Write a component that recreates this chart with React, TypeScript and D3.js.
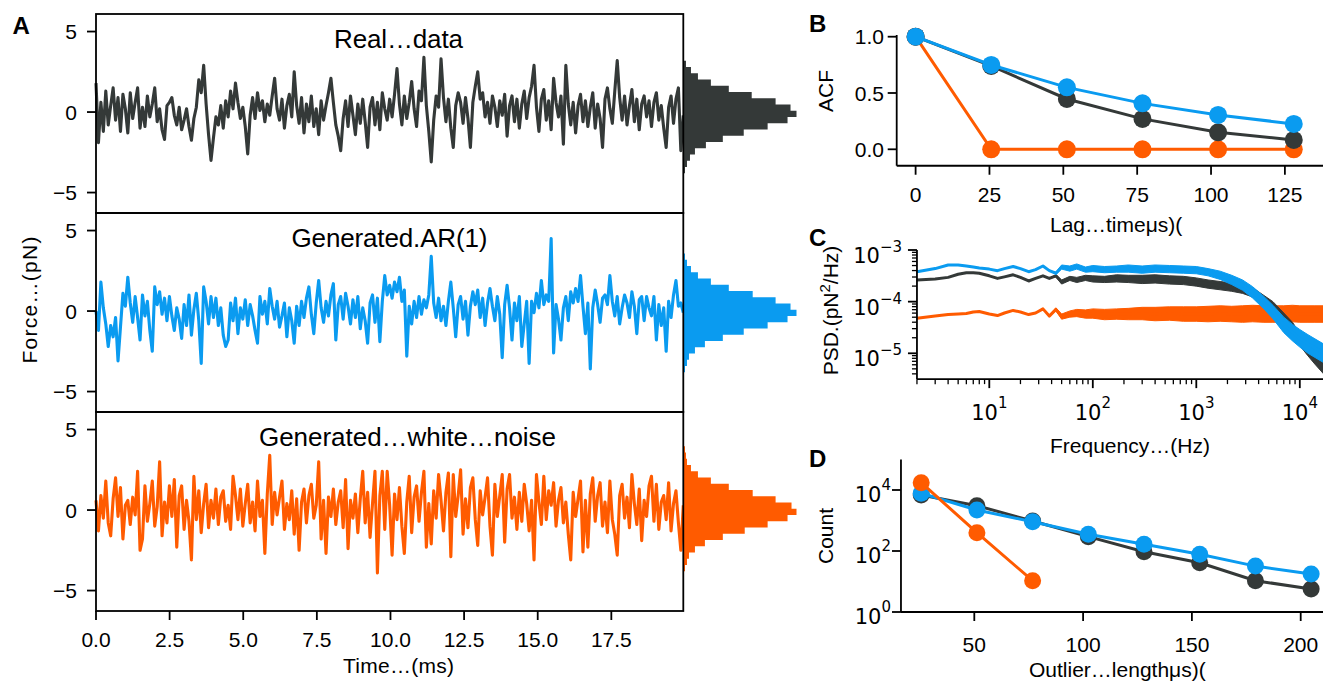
import React from 'react';
import * as d3 from 'd3';

const C_REAL = '#343938';
const C_AR = '#0a9bf0';
const C_WHITE = '#ff5b00';
const FONT = 'Liberation Sans, Arial, sans-serif';
const MATH = 'DejaVu Sans, sans-serif';

// ---------- Panel A: force traces (pN), sampled every 0.0831 ms ----------
const timeStepMs = 0.0831;
const forceReal = [
  1.8, -1.9, 0.6, -1.2, 1.3, -0.8, 0.4, 1.5, -0.5, 0.9,
  -1.2, 1.1, 0.2, -1.3, 1.2, -0.4, 0.6, 1.5, -1.0, 0.3,
  -0.9, 1.0, -0.3, 0.5, 1.5, -0.6, 0.2, -1.1, -1.7, 0.4,
  0.6, 0.9, -0.2, -0.8, 0.3, -1.1, -0.5, 0.2, -0.9, -1.75,
  -0.4, 0.3, 2.0, 1.2, 2.9, 0.5, -1.4, -3.0, -1.6, -0.3,
  -0.8, 0.4, -1.0, 0.7, -0.3, 1.3, 0.2, 1.8, 0.6, -0.4,
  0.3, -0.9, -2.6, -0.2, 0.9, -0.4, 1.2, 0.1, 0.7, -0.6,
  0.5, -0.2, 1.0, 2.1, 0.2, -0.5, 0.8, -1.0, 0.4, 1.1,
  -0.3, 2.5, 0.4, -0.7, 0.9, -1.3, 0.5, -0.6, 1.0, -0.9,
  0.2, -1.4, 0.7, -0.5, 0.4, 1.2, 2.1, 0.6, -0.8, -1.5,
  -2.4, -0.4, 0.7, -0.9, 1.0, -0.2, -1.4, 0.5, -0.7, 0.8,
  -0.6, -2.2, 0.3, 0.9, -0.8, 0.6, -1.1, 1.2, 0.2, -0.5,
  0.8, -0.3, 1.1, 2.7, 0.5, -0.8, 1.0, -0.4, 0.6, 1.9,
  0.2, -0.9, 1.3, 0.7, 3.4, 0.4, -1.2, -3.1, -0.5, 1.0,
  0.3, 3.3, 0.9, -0.6, 0.8, -1.0, -2.2, 0.4, 1.2, 0.6,
  -0.7, 0.9, -0.4, -2.2, 0.6, 1.6, 2.5, 0.8, 1.2, -0.3,
  0.6, -0.7, 1.0, 0.3, -0.9, 0.7, -0.2, 1.1, -1.5, 0.4,
  1.0, -0.6, 0.8, -1.0, 0.5, 1.3, -0.4, 0.9, 1.6, 2.9,
  0.3, -1.2, 0.8, 1.4, -0.5, 0.7, -1.1, 2.1, 0.6, -0.3,
  1.0, -2.0, 2.9, 0.5, -0.8, 0.6, -1.3, 0.4, 1.1, -0.6,
  0.7, -0.9, 0.3, 1.2, -1.0, 0.5, -0.4, -2.2, 0.8, 1.5,
  0.2, -0.7, 1.3, 3.2, 0.9, -0.5, 1.0, -0.8, 0.4, 1.4,
  -0.6, 0.8, -1.1, 0.5, 1.0, -0.3, 0.7, -0.9, 0.6, 1.2,
  -0.5, 0.4, -1.0, -2.2, 0.3, 1.0, -0.7, 0.8, 1.5, -2.4,
  -0.2,
];
const forceAR = [
  0.0, -1.2, 1.8, 0.2, -0.8, -2.2, -0.9, -1.6, -0.4, -3.1,
  -1.0, 1.1, 0.3, 2.1, 0.5, -0.7, 0.9, -0.4, -1.8, 1.0,
  -0.3, 0.6, -1.2, -2.5, 1.5, 0.4, 1.2, -0.2, 0.8, -0.6,
  0.9, -0.3, -1.2, 0.2, -0.5, -1.7, 0.4, -0.9, 1.0, -1.5,
  0.1, 1.1, -0.6, -3.25, 1.5, 0.6, -0.8, 0.9, -0.4, 0.8,
  -0.9, 0.2, -1.5, -2.2, -1.8, 0.5, -0.6, 0.8, -1.4, 0.2,
  -0.5, 0.7, -0.9, 0.4, -0.3, -1.2, -2.0, 0.9, -0.2, 0.6,
  -0.8, 1.4, 0.3, -0.5, 0.6, -1.0, -0.3, 0.5, -1.6, 0.2,
  -0.6, -2.0, 0.3, -0.9, 0.6, -0.4, 0.8, 1.5, -0.2, -1.4,
  0.5, 1.9, 0.2, -0.7, 0.6, -0.3, 1.0, 1.7, -1.8, 0.4,
  0.9, -0.5, 1.1, 0.3, -0.8, 0.7, -0.4, 0.9, -1.1, 0.2,
  -0.6, -2.0, 0.5, 1.0, -0.7, 0.8, -1.9, 0.6, 2.2, 1.0,
  1.6, 0.8, 1.8, 1.2, 2.1, 0.6, 1.3, -2.8, 0.3, -0.8,
  0.6, -0.4, 0.9, -0.2, 0.7, 0.2, 1.0, 3.4, 0.5, -0.4,
  0.8, -0.6, 0.3, -0.9, 0.6, 1.8, 0.2, -1.6, 0.4, 0.9,
  -0.5, 0.6, -1.5, 0.3, 1.2, 0.4, 1.3, -0.4, 0.8, -0.9,
  0.5, 1.4, 0.3, -0.6, 0.9, -0.2, -2.9, 0.4, 1.6, 0.2,
  -1.8, 0.5, -0.6, 0.9, -2.2, -0.8, 0.6, -3.25, 0.6, -0.1,
  1.1, 0.2, 1.9, 0.4, 1.0, 0.6, 4.5, -2.6, 0.4, -0.5,
  -1.8, 0.2, 0.9, -0.6, 1.2, 0.5, 1.4, 0.6, 2.2, 0.3,
  -1.4, 0.5, -3.6, 0.2, 1.3, 0.4, -0.7, 0.8, 1.0, 0.4,
  2.2, 0.6, -0.3, 0.9, -0.8, 0.2, 1.0, 0.5, -0.4, 1.2,
  0.3, -1.4, 0.7, 0.9, -0.6, 0.9, 0.2, -0.3, 0.9, -1.8,
  0.4, -0.9, 0.2, -2.5, 0.6, -0.4, 1.0, 1.9, 0.3, 0.5,
  -0.1,
];
const forceWhite = [
  0.6, -1.3, 0.9, -0.5, 1.8, -0.8, -1.6, 0.7, 2.0, -0.4,
  1.4, -1.8, 0.3, 0.6, -0.9, 0.8, -0.3, 2.4, -2.5, -1.8,
  1.5, -0.7, 0.4, 1.8, -1.0, 0.2, 3.0, -1.6, 0.5, -0.8,
  1.5, -0.4, 1.9, -2.3, 0.9, 1.5, -1.2, 0.6, -0.7, -3.1,
  2.1, -0.6, 1.2, -1.4, 0.4, 1.6, -1.1, 0.6, -0.5, 1.3,
  -0.9, 0.8, 1.2, -0.7, 0.3, -1.2, 2.1, 0.9, -0.6, 1.3,
  -1.0, 0.4, 1.6, -0.8, 0.5, -1.3, 1.8, -0.4, 0.6, -2.7,
  1.0, 3.4, -0.9, 1.1, -0.3, 0.8, 1.8, -1.2, 0.4, -0.6,
  1.2, -1.5, 0.7, -2.5, 0.5, 1.3, -0.8, 0.9, 1.6, -0.5,
  0.3, 3.0, -1.8, 0.6, -2.7, 0.8, -0.4, 1.3, -0.9, 0.5,
  1.2, -1.1, 1.9, -2.4, 0.6, -0.5, 1.0, -1.4, 0.7, 2.4,
  -0.8, 1.1, -1.7, 0.4, 2.4, -3.9, 0.9, 2.4, -1.2, 2.4,
  0.3, -2.8, 1.0, -0.6, 1.4, -1.0, -2.7, 0.5, 2.1, -1.4,
  0.8, 1.5, -0.7, 1.1, 2.4, -2.3, 0.4, -2.1, 1.2, -0.5,
  2.2, 0.6, -1.3, 1.1, 2.3, -2.9, 2.2, -0.4, 0.9, 2.5,
  -1.5, 0.7, -1.1, 1.4, 2.0, -0.6, -2.2, 1.2, -0.3, 0.8,
  2.0, -1.0, -2.8, 1.6, -0.4, 0.9, 2.2, -2.0, 1.3, 2.2,
  -0.5, 0.8, -1.2, 1.1, -0.7, 1.6, 0.4, -1.3, 0.6, -3.1,
  2.2, 0.5, -0.9, 2.1, -0.6, 1.2, 0.3, 1.7, -1.0, 0.6,
  1.4, -0.8, 0.5, -1.5, -3.1, 1.1, -0.4, 0.7, 1.8, -2.6,
  0.6, -2.3, 1.0, 2.0, -0.7, 0.9, 1.7, -1.0, 0.5, -1.4,
  1.8, -0.6, -1.5, -2.8, 0.9, 1.6, -0.5, 0.8, -1.1, 2.2,
  0.4, -0.9, 1.3, -1.9, 0.6, -0.4, 1.5, 2.1, -0.7, 1.6,
  -1.2, 0.5, 0.9, -0.6, 1.7, -1.3, 0.4, 1.2, -0.8, -2.5,
  0.3,
];

// histogram bin edges (pN, top to bottom) and counts per bin
const histEdges = [3.96, 3.57, 3.18, 2.80, 2.41, 2.02, 1.63, 1.24, 0.86, 0.47, 0.08, -0.31, -0.70, -1.08, -1.47, -1.86, -2.25, -2.64, -3.02, -3.41, -3.80];
const histReal = [0, 0, 2, 7, 14, 27, 45, 68, 92, 107, 113, 104, 84, 60, 39, 22, 11, 6, 3, 1];
const histAR = [0, 1, 3, 7, 14, 27, 45, 69, 92, 107, 113, 104, 84, 60, 39, 21, 11, 5, 3, 1];
const histWhite = [1, 2, 3, 7, 14, 27, 45, 69, 92, 108, 113, 104, 84, 61, 39, 21, 11, 5, 3, 1];

const timeTicks = [0, 2.5, 5, 7.5, 10, 12.5, 15, 17.5];
const forceTicks = [-5, 0, 5];

// ---------- Panel B: ACF ----------
const acfLags = [0, 25.6, 51.2, 76.8, 102.4, 128];
const acfReal = [1.0, 0.74, 0.447, 0.27, 0.151, 0.083];
const acfAR = [1.0, 0.749, 0.55, 0.408, 0.305, 0.225];
const acfWhite = [1.0, 0.0, 0.0, 0.0, 0.0, 0.0];
const acfXTicks = [0, 25, 50, 75, 100, 125];
const acfYTicks = [0, 0.5, 1.0];

// ---------- Panel C: PSD (log10 pN^2/Hz), band = half-spread of the noisy estimate ----------
const psdFreq = [2, 3, 4, 5, 6, 7, 8, 10, 12, 14, 17, 20, 24, 28, 33, 38, 44, 50, 60, 70, 85, 100, 130, 170, 220, 300, 400, 550, 750, 1000, 1300, 1700, 2200, 2800, 3500, 4500, 5500, 7000, 8500, 10000, 12000, 14000, 17000, 19500];
const psdRealLog = [-3.58, -3.56, -3.53, -3.47, -3.44, -3.44, -3.45, -3.50, -3.55, -3.52, -3.48, -3.53, -3.60, -3.55, -3.50, -3.55, -3.50, -3.62, -3.55, -3.58, -3.54, -3.56, -3.57, -3.55, -3.56, -3.57, -3.56, -3.58, -3.59, -3.62, -3.66, -3.69, -3.72, -3.76, -3.82, -3.98, -4.10, -4.33, -4.52, -4.73, -4.92, -5.08, -5.26, -5.35];
const psdRealSpread = [0, 0, 0, 0, 0, 0, 0, 0, 0, 0, 0, 0, 0, 0, 0, 0, 0.02, 0.04, 0.04, 0.05, 0.05, 0.06, 0.06, 0.07, 0.07, 0.08, 0.08, 0.08, 0.08, 0.08, 0.08, 0.08, 0.08, 0.08, 0.09, 0.1, 0.1, 0.11, 0.12, 0.12, 0.13, 0.13, 0.14, 0.14];
const psdARLog = [-3.42, -3.36, -3.29, -3.29, -3.31, -3.33, -3.35, -3.37, -3.40, -3.36, -3.32, -3.36, -3.42, -3.38, -3.31, -3.40, -3.45, -3.33, -3.36, -3.32, -3.38, -3.36, -3.38, -3.37, -3.36, -3.38, -3.36, -3.37, -3.38, -3.39, -3.43, -3.49, -3.58, -3.68, -3.82, -4.02, -4.20, -4.45, -4.60, -4.71, -4.82, -4.90, -5.00, -5.06];
const psdARSpread = [0, 0, 0, 0, 0, 0, 0, 0, 0, 0, 0, 0, 0, 0, 0, 0, 0.02, 0.04, 0.05, 0.05, 0.05, 0.06, 0.06, 0.06, 0.07, 0.07, 0.07, 0.07, 0.07, 0.07, 0.07, 0.08, 0.09, 0.1, 0.11, 0.12, 0.13, 0.15, 0.16, 0.17, 0.18, 0.18, 0.18, 0.18];
const psdWhiteLog = [-4.32, -4.28, -4.25, -4.24, -4.23, -4.20, -4.19, -4.24, -4.27, -4.22, -4.17, -4.20, -4.25, -4.22, -4.14, -4.28, -4.15, -4.29, -4.24, -4.22, -4.24, -4.23, -4.25, -4.24, -4.24, -4.23, -4.24, -4.23, -4.24, -4.24, -4.24, -4.23, -4.24, -4.24, -4.23, -4.24, -4.24, -4.24, -4.23, -4.24, -4.24, -4.24, -4.24, -4.24];
const psdWhiteSpread = [0, 0, 0, 0, 0, 0, 0, 0, 0, 0, 0, 0, 0, 0, 0, 0, 0.03, 0.05, 0.06, 0.07, 0.08, 0.09, 0.1, 0.1, 0.11, 0.12, 0.13, 0.13, 0.14, 0.14, 0.15, 0.15, 0.15, 0.16, 0.16, 0.16, 0.16, 0.16, 0.16, 0.16, 0.16, 0.16, 0.16, 0.16];
const psdXTicks = [10, 100, 1000, 10000];
const psdYTicks = [-3, -4, -5];

// ---------- Panel D: outlier length histogram ----------
const outlierLen = [25.6, 51.2, 76.8, 102.4, 128, 153.6, 179.2, 204.8];
const outlierReal = [6860, 3060, 960, 295, 95, 41, 10.6, 5.7];
const outlierAR = [7800, 2200, 910, 353, 166, 78, 32, 17.6];
const outlierWhite = [17400, 400, 10.6];
const outlierXTicks = [50, 100, 150, 200];
const outlierYTicks = [0, 2, 4];

const ELL = '\u2026';
const MU = '\u03bc';
const MINUS = '\u2212';

function Sup({ base, exp, x, y, anchor, dy }: { base: string; exp: string; x: number; y: number; anchor: string; dy: number }) {
  return (
    <text x={x} y={y} textAnchor={anchor} fontFamily={MATH} fontSize={21} fill="#000">
      {base}
      <tspan dy={dy} fontSize={15}>{exp}</tspan>
    </text>
  );
}

function fmtExp(v: number) {
  return v < 0 ? MINUS + Math.abs(v) : String(v);
}

export default function App() {
  const W = 1323, H = 683;
  const times = forceReal.map((_, i) => i * timeStepMs);
  const xT = d3.scaleLinear().domain([0, 240 * timeStepMs]).range([96, 683.3]);
  const panels = [
    { data: forceReal, color: C_REAL, top: 14, bottom: 213, title: 'Real' + ELL + 'data', tx: 334, tw: 129, hist: histReal },
    { data: forceAR, color: C_AR, top: 213, bottom: 412, title: 'Generated.AR(1)', tx: 291.5, tw: 196, hist: histAR },
    { data: forceWhite, color: C_WHITE, top: 412, bottom: 611, title: 'Generated' + ELL + 'white' + ELL + 'noise', tx: 259, tw: 297, hist: histWhite },
  ];
  const xH = d3.scaleLinear().domain([0, 113]).range([684, 796.5]);

  // B scales
  const xB = d3.scaleLinear().domain([-6.4, 137.9]).range([896.7, 1323]);
  const yB = d3.scaleLinear().domain([0, 1]).range([149.3, 36.7]);
  // C scales
  const xC = d3.scaleLog().domain([10, 10000]).range([989.3, 1299.8]);
  const yC = d3.scaleLog().domain([1e-3, 1e-5]).range([250, 353.3]);
  // D scales
  const xD = d3.scaleLinear().domain([50, 200]).range([974.3, 1300.7]);
  const yD = d3.scaleLog().domain([1, 1e4]).range([612, 490]);

  const lw = 1.8;

  const histPath = (counts: number[], ys: d3.ScaleLinear<number, number>) => {
    const p = d3.path();
    let first = -1, last = -1;
    counts.forEach((c, i) => { if (c > 0) { if (first < 0) first = i; last = i; } });
    p.moveTo(xH(0), ys(histEdges[first]));
    for (let i = first; i <= last; i++) {
      p.lineTo(xH(counts[i]), ys(histEdges[i]));
      p.lineTo(xH(counts[i]), ys(histEdges[i + 1]));
    }
    p.lineTo(xH(0), ys(histEdges[last + 1]));
    p.closePath();
    return p.toString();
  };

  const psdSeries = [
    { log: psdWhiteLog, spread: psdWhiteSpread, color: C_WHITE },
    { log: psdRealLog, spread: psdRealSpread, color: C_REAL },
    { log: psdARLog, spread: psdARSpread, color: C_AR },
  ];
  const psdLine = d3.line<number>().x((_, i) => xC(psdFreq[i])).y((v) => yC(Math.pow(10, v)));

  const cMinorX: number[] = [];
  for (let d = 0; d <= 4; d++) for (let k = 2; k <= 9; k++) { const v = k * Math.pow(10, d); if (v >= 2 && xC(v) <= 1323) cMinorX.push(v); }
  const cMinorY: number[] = [];
  for (let d = -6; d <= -4; d++) for (let k = 2; k <= 9; k++) { const v = k * Math.pow(10, d); if (v >= Math.pow(10, -5.5) && v <= 1e-3) cMinorY.push(v); }

  const acfSeries = [
    { vals: acfWhite, color: C_WHITE },
    { vals: acfReal, color: C_REAL },
    { vals: acfAR, color: C_AR },
  ];
  const acfLine = d3.line<number>().x((_, i) => xB(acfLags[i])).y((v) => yB(v));

  const outSeries = [
    { vals: outlierReal, color: C_REAL },
    { vals: outlierAR, color: C_AR },
    { vals: outlierWhite, color: C_WHITE },
  ];
  const outLine = d3.line<number>().x((_, i) => xD(outlierLen[i])).y((v) => yD(v));

  const cBottom = yC(Math.pow(10, -5.5));

  return (
    <svg width={W} height={H} viewBox={`0 0 ${W} ${H}`} style={{ position: 'absolute', left: 0, top: 0, background: '#fff' }}>
      <defs>
        <clipPath id="clipC"><rect x={916} y={230} width={420} height={150} /></clipPath>
      </defs>
      <rect x={0} y={0} width={W} height={H} fill="#fff" />

      {/* ---------- Panel A ---------- */}
      {panels.map((p, pi) => {
        const ys = d3.scaleLinear().domain([-6.27, 6.09]).range([p.bottom, p.top]);
        const line = d3.line<number>().x((_, i) => xT(times[i])).y((v) => ys(v));
        return (
          <g key={pi}>
            <path d={histPath(p.hist, ys)} fill={p.color} />
            <path d={line(p.data) || ''} fill="none" stroke={p.color} strokeWidth={3.1} strokeLinejoin="round" />
            <rect x={96} y={p.top} width={683.3 - 96} height={p.bottom - p.top} fill="none" stroke="#000" strokeWidth={lw} />
            {forceTicks.map((t) => (
              <g key={t}>
                <line x1={96 - 9} x2={96} y1={ys(t)} y2={ys(t)} stroke="#000" strokeWidth={lw} />
                <text x={77} y={ys(t) + 7.5} textAnchor="end" fontFamily={FONT} fontSize={21}>{t < 0 ? MINUS + Math.abs(t) : String(t)}</text>
              </g>
            ))}
            <text x={p.tx} y={p.top + 34} fontFamily={FONT} fontSize={26} textLength={p.tw} lengthAdjust="spacing">{p.title}</text>
          </g>
        );
      })}
      {timeTicks.map((t) => (
        <g key={t}>
          <line x1={xT(t)} x2={xT(t)} y1={611} y2={620} stroke="#000" strokeWidth={lw} />
          <text x={xT(t)} y={647} textAnchor="middle" fontFamily={FONT} fontSize={21}>{d3.format('.1f')(t)}</text>
        </g>
      ))}
      <text x={343} y={673} fontFamily={FONT} fontSize={21} textLength={111} lengthAdjust="spacing">{'Time' + ELL + '(ms)'}</text>
      <text transform="translate(37,300) rotate(-90)" textAnchor="middle" fontFamily={FONT} fontSize={21} textLength={127} lengthAdjust="spacing">{'Force' + ELL + '(pN)'}</text>
      <text x={12.5} y={33.5} fontFamily={FONT} fontSize={24} fontWeight="bold">A</text>

      {/* ---------- Panel B ---------- */}
      <text x={809} y={32} fontFamily={FONT} fontSize={24} fontWeight="bold">B</text>
      <line x1={xB(-6.4)} x2={xB(-6.4)} y1={yB(1.015)} y2={yB(-0.146)} stroke="#000" strokeWidth={lw} />
      <line x1={xB(-6.4)} x2={1323} y1={yB(-0.146)} y2={yB(-0.146)} stroke="#000" strokeWidth={lw} />
      {acfYTicks.map((t) => (
        <g key={t}>
          <line x1={xB(-6.4) - 9} x2={xB(-6.4)} y1={yB(t)} y2={yB(t)} stroke="#000" strokeWidth={lw} />
          <text x={884} y={yB(t) + 7.5} textAnchor="end" fontFamily={FONT} fontSize={21}>{d3.format('.1f')(t)}</text>
        </g>
      ))}
      {acfXTicks.map((t) => (
        <g key={t}>
          <line x1={xB(t)} x2={xB(t)} y1={yB(-0.146)} y2={yB(-0.146) + 9} stroke="#000" strokeWidth={lw} />
          <text x={xB(t)} y={201.5} textAnchor="middle" fontFamily={FONT} fontSize={21}>{String(t)}</text>
        </g>
      ))}
      {acfSeries.map((s, si) => (
        <g key={si}>
          <path d={acfLine(s.vals) || ''} fill="none" stroke={s.color} strokeWidth={3} />
          {s.vals.map((v, i) => <circle key={i} cx={xB(acfLags[i])} cy={yB(v)} r={9} fill={s.color} />)}
        </g>
      ))}
      <text transform="translate(833,91) rotate(-90)" textAnchor="middle" fontFamily={FONT} fontSize={21}>ACF</text>
      <text x={1050} y={231.5} fontFamily={FONT} fontSize={21}>{'Lag' + ELL + 'time' + MU + 's)('}</text>

      {/* ---------- Panel C ---------- */}
      <text x={809} y={245.5} fontFamily={FONT} fontSize={24} fontWeight="bold">C</text>
      <g clipPath="url(#clipC)">
        {psdSeries.map((s, si) => {
          const area = d3.area<number>()
            .x((_, i) => xC(psdFreq[i]))
            .y0((v, i) => yC(Math.pow(10, v - s.spread[i])))
            .y1((v, i) => yC(Math.pow(10, v + s.spread[i])));
          return (
            <g key={si}>
              <path d={area(s.log) || ''} fill={s.color} stroke={s.color} strokeWidth={1} />
              <path d={psdLine(s.log) || ''} fill="none" stroke={s.color} strokeWidth={3} strokeLinejoin="round" />
            </g>
          );
        })}
      </g>
      <line x1={xC(2)} x2={xC(2)} y1={yC(1e-3)} y2={cBottom} stroke="#000" strokeWidth={lw} />
      <line x1={xC(2)} x2={1323} y1={cBottom} y2={cBottom} stroke="#000" strokeWidth={lw} />
      {cMinorX.map((v) => (
        <line key={v} x1={xC(v)} x2={xC(v)} y1={cBottom} y2={cBottom + 5} stroke="#000" strokeWidth={1.3} />
      ))}
      {cMinorY.map((v) => (
        <line key={v} x1={xC(2) - 5} x2={xC(2)} y1={yC(v)} y2={yC(v)} stroke="#000" strokeWidth={1.3} />
      ))}
      {psdXTicks.map((t) => (
        <g key={t}>
          <line x1={xC(t)} x2={xC(t)} y1={cBottom} y2={cBottom + 9} stroke="#000" strokeWidth={lw} />
          <Sup base="10" exp={String(Math.round(Math.log10(t)))} x={xC(t)} y={420} anchor="middle" dy={-12} />
        </g>
      ))}
      {psdYTicks.map((e) => (
        <g key={e}>
          <line x1={xC(2) - 9} x2={xC(2)} y1={yC(Math.pow(10, e))} y2={yC(Math.pow(10, e))} stroke="#000" strokeWidth={lw} />
          <Sup base="10" exp={fmtExp(e)} x={902} y={yC(Math.pow(10, e)) + 13} anchor="end" dy={-11} />
        </g>
      ))}
      <text transform="translate(838,310.5) rotate(-90)" textAnchor="middle" fontFamily={FONT} fontSize={21}>PSD.(pN<tspan dy={-8} fontSize={15}>2</tspan><tspan dy={8}>/Hz)</tspan></text>
      <text x={1050} y={453} fontFamily={FONT} fontSize={21}>{'Frequency' + ELL + '(Hz)'}</text>

      {/* ---------- Panel D ---------- */}
      <text x={809} y={467} fontFamily={FONT} fontSize={24} fontWeight="bold">D</text>
      <line x1={xD(16.3)} x2={xD(16.3)} y1={yD(1e5)} y2={yD(1)} stroke="#000" strokeWidth={lw} />
      <line x1={xD(16.3)} x2={1323} y1={yD(1)} y2={yD(1)} stroke="#000" strokeWidth={lw} />
      {outlierYTicks.map((e) => (
        <g key={e}>
          <line x1={xD(16.3) - 9} x2={xD(16.3)} y1={yD(Math.pow(10, e))} y2={yD(Math.pow(10, e))} stroke="#000" strokeWidth={lw} />
          <Sup base="10" exp={String(e)} x={891} y={yD(Math.pow(10, e)) + 11.5} anchor="end" dy={-11.5} />
        </g>
      ))}
      {outlierXTicks.map((t) => (
        <g key={t}>
          <line x1={xD(t)} x2={xD(t)} y1={yD(1)} y2={yD(1) + 9} stroke="#000" strokeWidth={lw} />
          <text x={xD(t)} y={651.5} textAnchor="middle" fontFamily={FONT} fontSize={21}>{String(t)}</text>
        </g>
      ))}
      {outSeries.map((s, si) => (
        <g key={si}>
          <path d={outLine(s.vals) || ''} fill="none" stroke={s.color} strokeWidth={3} />
          {s.vals.map((v, i) => <circle key={i} cx={xD(outlierLen[i])} cy={yD(v)} r={8.5} fill={s.color} />)}
        </g>
      ))}
      <text transform="translate(833,536) rotate(-90)" textAnchor="middle" fontFamily={FONT} fontSize={21}>Count</text>
      <text x={1029} y={677} fontFamily={FONT} fontSize={21}>{'Outlier' + ELL + 'length' + MU + 's)('}</text>
    </svg>
  );
}
